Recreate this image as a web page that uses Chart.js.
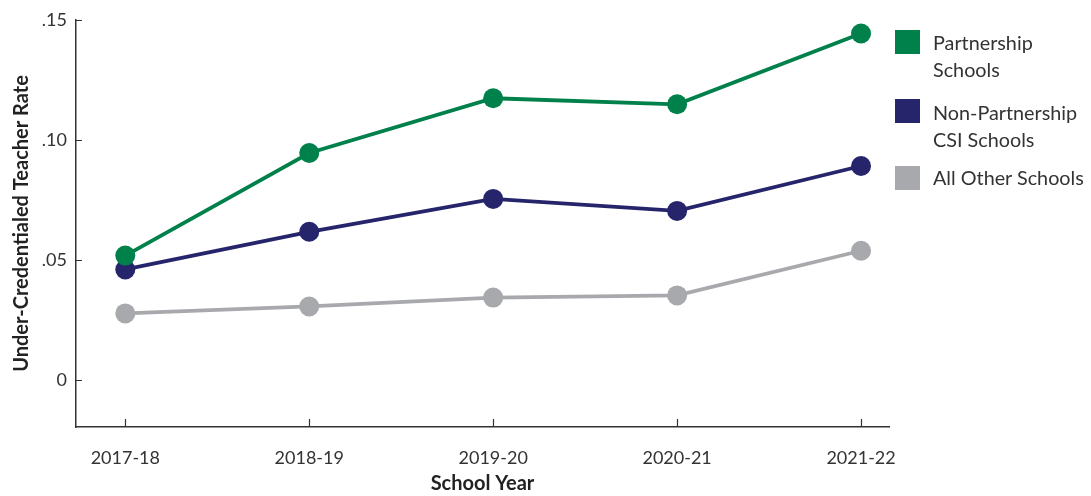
<!DOCTYPE html>
<html>
<head>
<meta charset="utf-8">
<script src="https://cdn.jsdelivr.net/npm/chart.js@4.4.1/dist/chart.umd.min.js"></script>
<style>
  body { margin: 0; background: #fff; font-family: Lato, sans-serif; }
  #wrap { position: relative; width: 1091px; height: 496px; }
  .leg { position: absolute; left: 895px; color: #333; font-size: 19.8px; line-height: 27px; }
  .leg span { position: absolute; left: 0; width: 25px; height: 24px; }
  .leg div { position: absolute; left: 38px; white-space: nowrap; }
</style>
</head>
<body>
<div id="wrap">
  <canvas id="chart" width="1091" height="496"></canvas>
  <div class="leg" style="top:30px"><span style="background:#00804A"></span><div style="top:-1px">Partnership<br>Schools</div></div>
  <div class="leg" style="top:99px"><span style="background:#26256B"></span><div style="top:0px">Non-Partnership<br>CSI Schools</div></div>
  <div class="leg" style="top:166px"><span style="background:#A8A9AC"></span><div style="top:-2px">All Other Schools</div></div>
</div>
<script>
var years = ["2017-18", "2018-19", "2019-20", "2020-21", "2021-22"];
var partnership = [0.0519, 0.0946, 0.1174, 0.1149, 0.1444];
var nonPartnership = [0.0461, 0.0618, 0.0755, 0.0705, 0.0892];
var allOther = [0.0278, 0.0307, 0.0344, 0.0353, 0.0539];
var yTicks = [0, 0.05, 0.10, 0.15];
var yTickText = ["0", ".05", ".10", ".15"];

function pts(arr) {
    return arr.map(function (v, i) { return { x: i, y: v }; });
}

function line(label, arr, color) {
    return {
        label: label,
        data: pts(arr),
        borderColor: color,
        backgroundColor: color,
        borderWidth: 3.8,
        pointRadius: 10,
        pointHoverRadius: 10,
        pointBorderWidth: 0,
        tension: 0,
        clip: false
    };
}

// small inward ticks on both axes
var innerTicks = {
    id: 'innerTicks',
    afterDraw: function (chart) {
        var ctx = chart.ctx, a = chart.chartArea;
        var xs = chart.scales.x, ys = chart.scales.y;
        ctx.save();
        ctx.strokeStyle = '#333';
        ctx.lineWidth = 1.2;
        ctx.beginPath();
        years.forEach(function (y, i) {
            var px = Math.round(xs.getPixelForValue(i)) + 0.5;
            ctx.moveTo(px, a.bottom);
            ctx.lineTo(px, a.bottom - 8);
        });
        yTicks.forEach(function (v) {
            var py = Math.round(ys.getPixelForValue(v)) + 0.5;
            ctx.moveTo(a.left, py);
            ctx.lineTo(a.left + 6, py);
        });
        ctx.stroke();
        ctx.restore();
    }
};

var ctx = document.getElementById("chart");
var chartGraph = new Chart(ctx, {
    type: 'line',
    data: {
        datasets: [
            line("Partnership Schools", partnership, "#00804A"),
            line("Non-Partnership CSI Schools", nonPartnership, "#26256B"),
            line("All Other Schools", allOther, "#A8A9AC")
        ]
    },
    options: {
        responsive: false,
        animation: false,
        layout: { padding: { top: 20, right: 202, left: 0, bottom: 0 } },
        plugins: { legend: { display: false }, tooltip: { enabled: false } },
        scales: {
            x: {
                type: 'linear',
                min: -0.268,
                max: 4.152,
                afterBuildTicks: function (s) { s.ticks = years.map(function (y, i) { return { value: i }; }); },
                afterFit: function (s) { s.height = 69; },
                grid: { display: false, drawTicks: false },
                border: { display: true, color: '#333', width: 1.5 },
                ticks: {
                    padding: 20,
                    color: '#333',
                    font: { family: 'Lato', size: 18 },
                    callback: function (v) { return years[v]; },
                    maxRotation: 0
                },
                title: {
                    display: true,
                    text: 'School Year',
                    color: '#222',
                    font: { family: 'Lato', size: 20, weight: 'bold' },
                    padding: { top: 0, bottom: 0 }
                }
            },
            y: {
                min: -0.0195,
                max: 0.15,
                afterBuildTicks: function (s) { s.ticks = yTicks.map(function (v) { return { value: v }; }); },
                afterFit: function (s) { s.width = 76; },
                grid: { display: false, drawTicks: false },
                border: { display: true, color: '#333', width: 1.5 },
                ticks: {
                    padding: 9,
                    color: '#333',
                    font: { family: 'Lato', size: 18 },
                    callback: function (v) { return yTickText[yTicks.indexOf(v)]; }
                },
                title: {
                    display: true,
                    text: 'Under-Credentialed Teacher Rate',
                    color: '#222',
                    font: { family: 'Lato', size: 20, weight: 'bold' },
                    padding: { top: 10, bottom: 0 }
                }
            }
        }
    },
    plugins: [innerTicks]
});
</script>
</body>
</html>
